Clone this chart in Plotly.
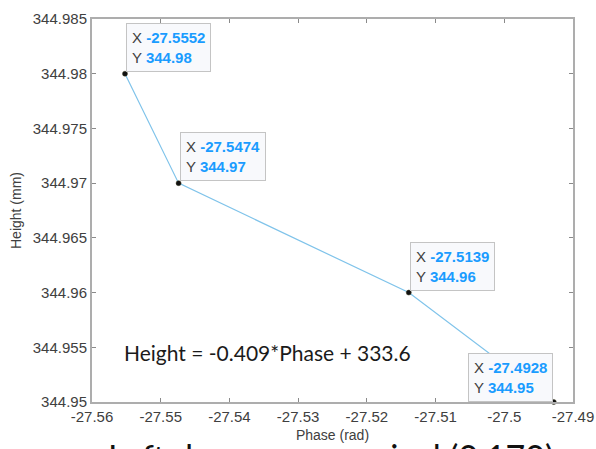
import plotly.graph_objects as go

# Measured points: phase (rad) against height (mm)
phase = [-27.5552, -27.5474, -27.5139, -27.4928]
height = [344.98, 344.97, 344.96, 344.95]

# Side of each point on which its data tip is placed
tip_side = ["right", "right", "right", "left"]

x_ticks = [-27.56, -27.55, -27.54, -27.53, -27.52, -27.51, -27.5, -27.49]
x_tick_labels = ["-27.56", "-27.55", "-27.54", "-27.53", "-27.52", "-27.51", "-27.5", "-27.49"]
y_ticks = [344.95, 344.955, 344.96, 344.965, 344.97, 344.975, 344.98, 344.985]
y_tick_labels = ["344.95", "344.955", "344.96", "344.965", "344.97", "344.975", "344.98", "344.985"]

equation = "Height = -0.409*Phase + 333.6"
caption = "Left down corner pixel (0,170)"

W, H = 596, 449
L, R, T, B = 92, 23, 19, 47
PW, PH = W - L - R, H - T - B


def px_x(p):
    return (p - L) / PW


def px_y(p):
    return (H - B - p) / PH


AX_FONT = dict(family="Liberation Sans, Arial, sans-serif", size=15, color="#404040")
TIP_BLUE = "#1a9cff"

fig = go.Figure()
fig.add_trace(go.Scatter(
    x=phase, y=height, mode="lines+markers",
    line=dict(color="#7fc3ea", width=1.2),
    marker=dict(color="#111111", size=5, line=dict(color="#3a3a20", width=0.5)),
    cliponaxis=False, showlegend=False, hoverinfo="x+y",
))

annotations = []
# Big caption below the axes (only its top edge falls inside the page)
annotations.append(dict(
    text=caption, xref="paper", yref="paper", x=px_x(106), y=px_y(456),
    xanchor="left", yanchor="middle", showarrow=False,
    font=dict(family="Lato, sans-serif", size=34, color="#111111"),
))
# Fit equation inside the axes
annotations.append(dict(
    text=equation, xref="paper", yref="paper", x=px_x(122), y=px_y(352),
    xanchor="left", yanchor="middle", showarrow=False,
    font=dict(family="Lato, sans-serif", size=21, color="#1a1a1a"),
))
# Data tips
for xv, yv, side in zip(phase, height, tip_side):
    txt = (f"X <span style='color:{TIP_BLUE}'><b>{xv}</b></span><br>"
           f"Y <span style='color:{TIP_BLUE}'><b>{yv}</b></span>")
    annotations.append(dict(
        text=txt, x=xv, y=yv, xref="x", yref="y", showarrow=False,
        xanchor="left" if side == "right" else "right", yanchor="bottom",
        xshift=1 if side == "right" else -1, yshift=2 if side == "right" else 0,
        align="left", bgcolor="#f8f9fc", bordercolor="#c4c4c4",
        borderwidth=1, borderpad=5,
        font=dict(family="Liberation Sans, Arial, sans-serif", size=15, color="#404040"),
    ))

fig.update_layout(
    width=W, height=H, autosize=False,
    margin=dict(l=L, r=R, t=T, b=B),
    paper_bgcolor="white", plot_bgcolor="white",
    annotations=annotations,
    xaxis=dict(
        range=[-27.56, -27.49], tickvals=x_ticks, ticktext=x_tick_labels,
        showgrid=False, zeroline=False, showline=True, linecolor="#adadad", linewidth=2,
        mirror="ticks", ticks="inside", ticklen=4, tickcolor="#8a8a8a",
        tickfont=AX_FONT,
        title=dict(text="Phase (rad)", standoff=6,
                   font=dict(family="Liberation Sans, Arial, sans-serif", size=14, color="#404040")),
        automargin=False,
    ),
    yaxis=dict(
        range=[344.95, 344.985], tickvals=y_ticks, ticktext=y_tick_labels,
        showgrid=False, zeroline=False, showline=True, linecolor="#adadad", linewidth=2,
        mirror="ticks", ticks="inside", ticklen=4, tickcolor="#8a8a8a",
        tickfont=AX_FONT,
        title=dict(text="Height (mm)", standoff=8,
                   font=dict(family="Liberation Sans, Arial, sans-serif", size=14, color="#404040")),
        automargin=False,
    ),
)

fig.write_html("out.html")
